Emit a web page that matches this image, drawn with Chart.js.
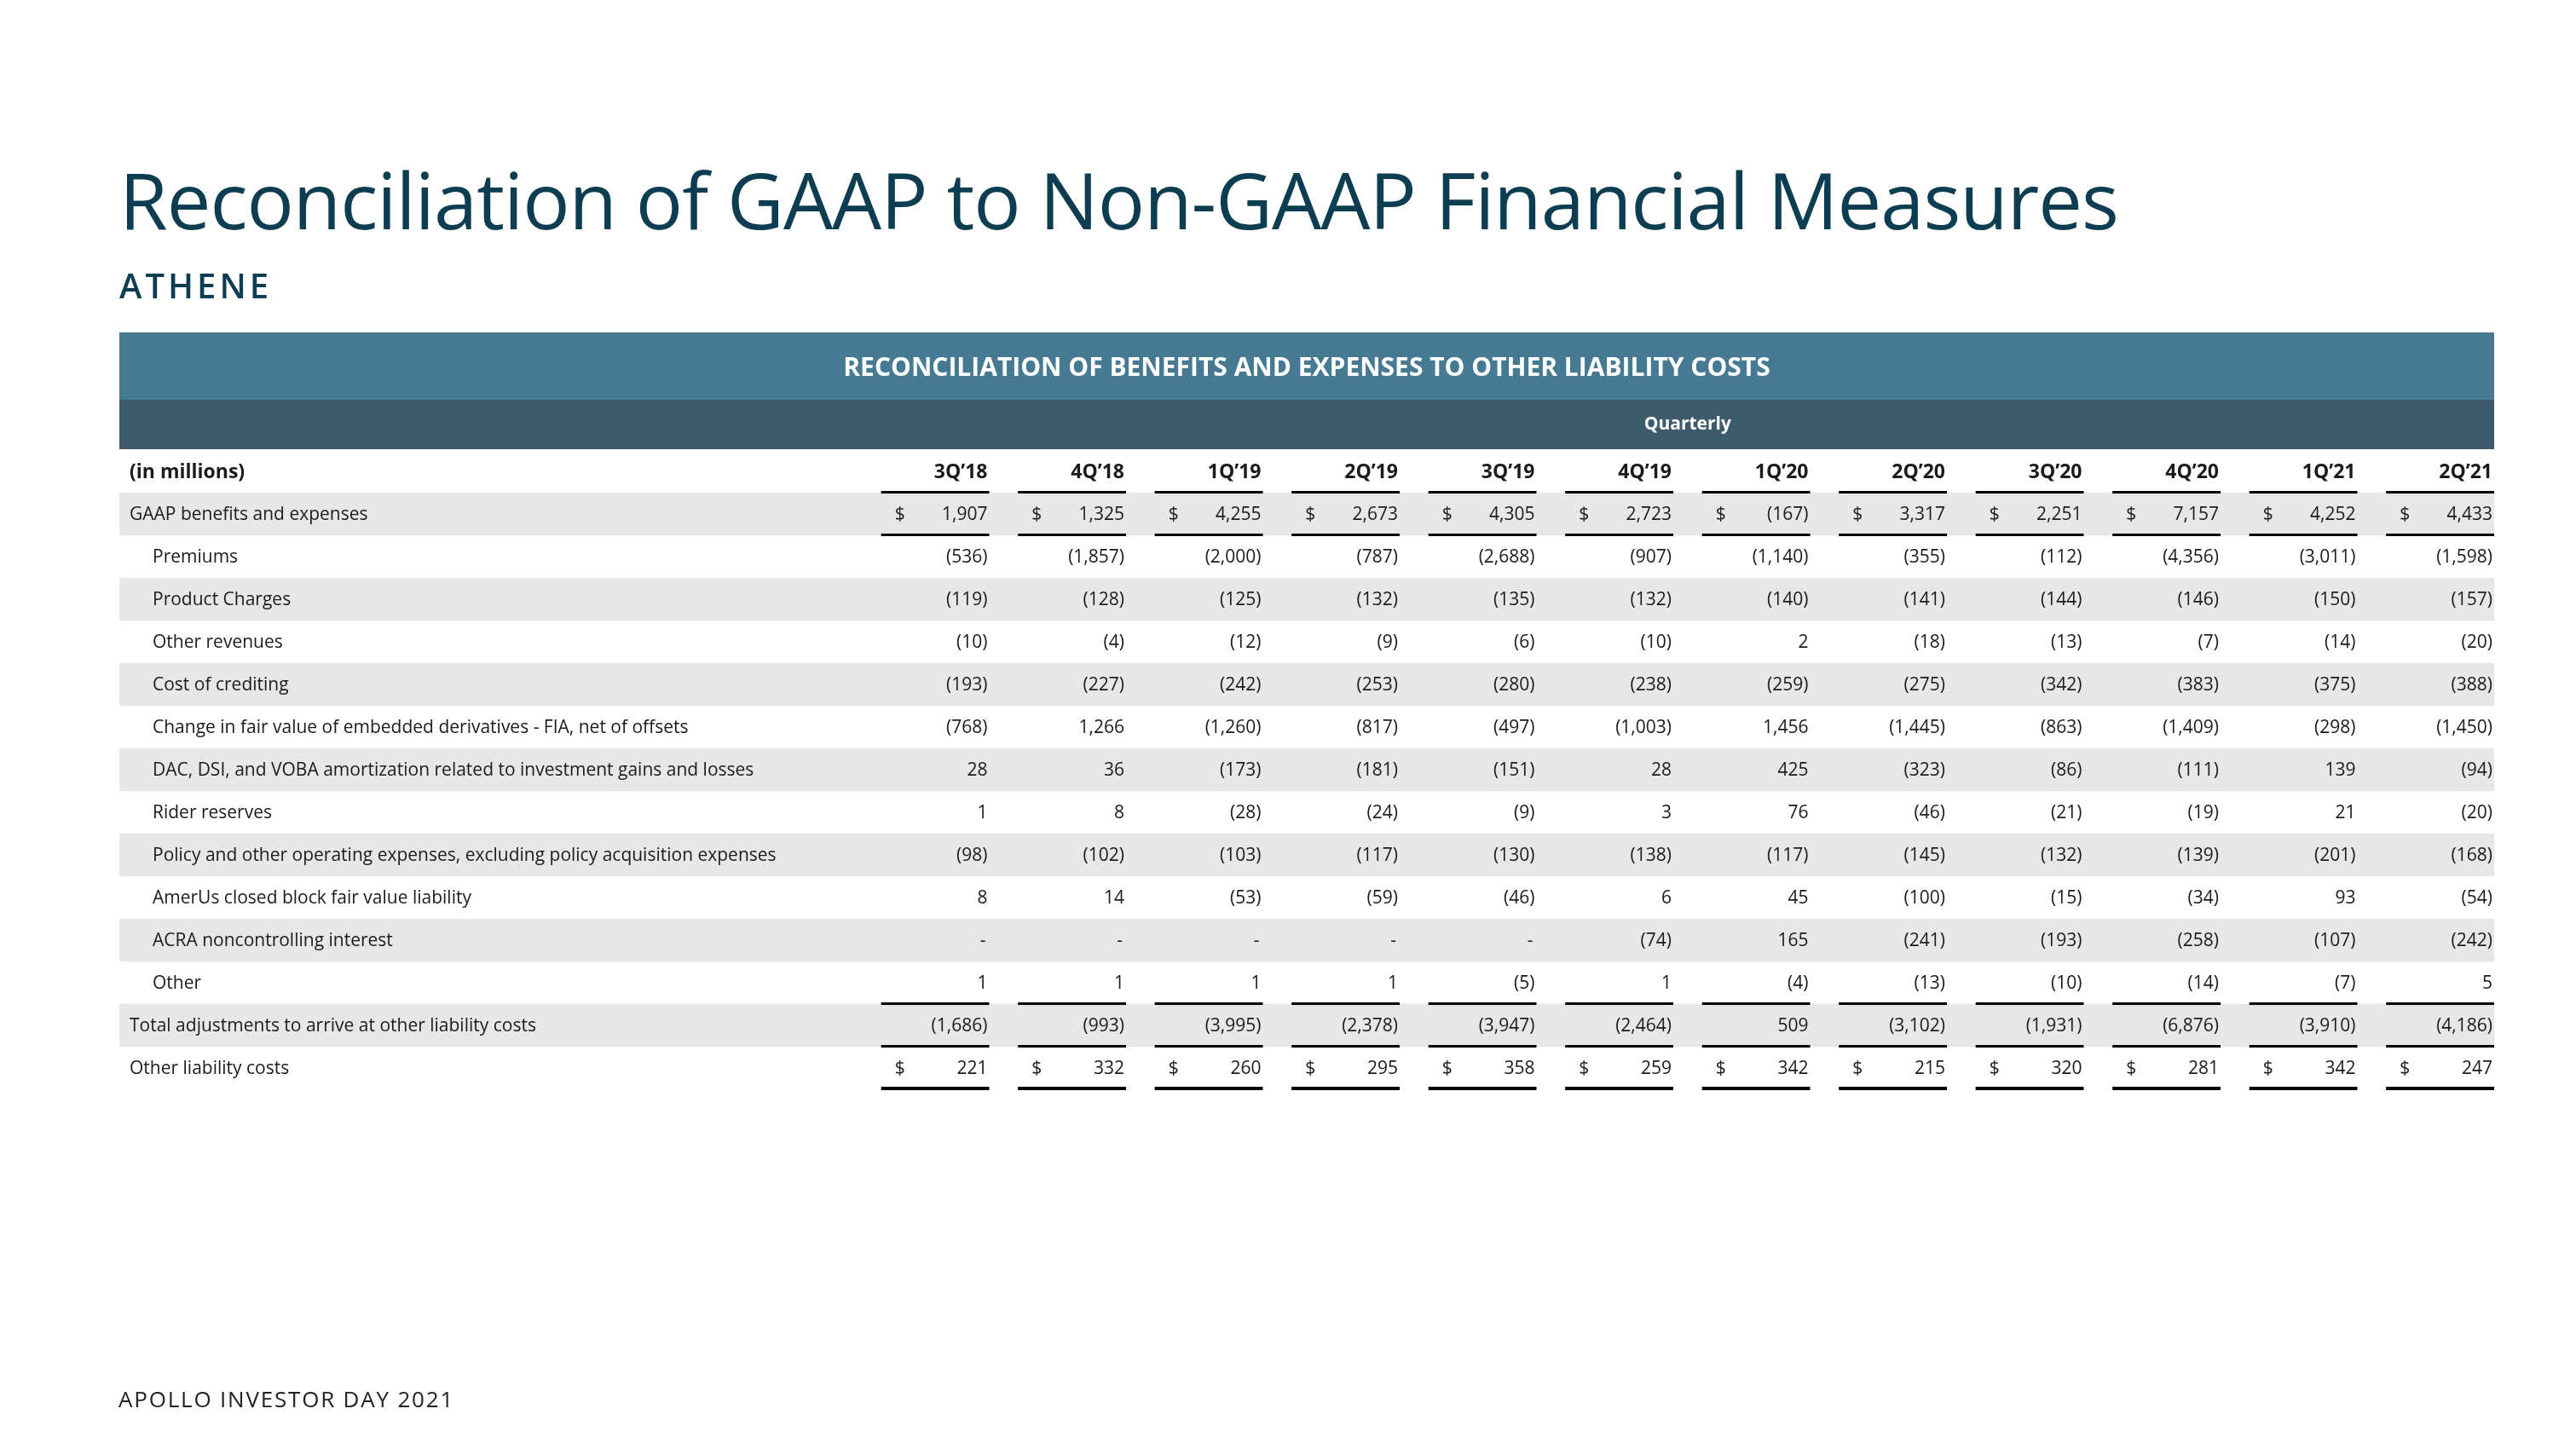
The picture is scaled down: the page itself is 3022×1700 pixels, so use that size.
<!DOCTYPE html>
<html>
<head>
<meta charset="utf-8">
<script src="https://cdn.jsdelivr.net/npm/chart.js@4.4.1/dist/chart.umd.min.js"></script>
<style>
  html, body { margin: 0; padding: 0; background: #fff; }
  #page { position: relative; width: 3022px; height: 1700px; overflow: hidden; font-family: "Open Sans", sans-serif; }
  #chart { position: absolute; left: 0; top: 0; }
  .title { position: absolute; left: 140px; top: 188px; font-size: 92px; line-height: 92px; color: #0c3d51; white-space: nowrap; letter-spacing: -1px; }
  .sub { position: absolute; left: 140px; top: 315px; font-size: 40px; line-height: 40px; font-weight: 600; color: #0c3d51; letter-spacing: 4px; }
  .foot { position: absolute; left: 139px; top: 1628px; font-size: 26px; line-height: 26px; color: #222; letter-spacing: 1.8px; }
</style>
</head>
<body>
<div id="page">
  <canvas id="chart" width="3022" height="1700"></canvas>
  <div class="title">Reconciliation of GAAP to Non-GAAP Financial Measures</div>
  <div class="sub">ATHENE</div>
  <div class="foot">APOLLO INVESTOR DAY 2021</div>
</div>
<script>
// Column headers
const quarters = ['3Q’18', '4Q’18', '1Q’19', '2Q’19', '3Q’19', '4Q’19', '1Q’20', '2Q’20', '3Q’20', '4Q’20', '1Q’21', '2Q’21'];

// Row labels (in millions)
const rowLabels = [
  'GAAP benefits and expenses',
  'Premiums',
  'Product Charges',
  'Other revenues',
  'Cost of crediting',
  'Change in fair value of embedded derivatives - FIA, net of offsets',
  'DAC, DSI, and VOBA amortization related to investment gains and losses',
  'Rider reserves',
  'Policy and other operating expenses, excluding policy acquisition expenses',
  'AmerUs closed block fair value liability',
  'ACRA noncontrolling interest',
  'Other',
  'Total adjustments to arrive at other liability costs',
  'Other liability costs'
];

// one array per row
const gaapBenefits   = [1907, 1325, 4255, 2673, 4305, 2723, -167, 3317, 2251, 7157, 4252, 4433];
const premiums       = [-536, -1857, -2000, -787, -2688, -907, -1140, -355, -112, -4356, -3011, -1598];
const productCharges = [-119, -128, -125, -132, -135, -132, -140, -141, -144, -146, -150, -157];
const otherRevenues  = [-10, -4, -12, -9, -6, -10, 2, -18, -13, -7, -14, -20];
const costCrediting  = [-193, -227, -242, -253, -280, -238, -259, -275, -342, -383, -375, -388];
const embeddedDeriv  = [-768, 1266, -1260, -817, -497, -1003, 1456, -1445, -863, -1409, -298, -1450];
const dacAmort       = [28, 36, -173, -181, -151, 28, 425, -323, -86, -111, 139, -94];
const riderReserves  = [1, 8, -28, -24, -9, 3, 76, -46, -21, -19, 21, -20];
const policyExpenses = [-98, -102, -103, -117, -130, -138, -117, -145, -132, -139, -201, -168];
const amerUs         = [8, 14, -53, -59, -46, 6, 45, -100, -15, -34, 93, -54];
const acraNci        = [null, null, null, null, null, -74, 165, -241, -193, -258, -107, -242];
const otherAdj       = [1, 1, 1, 1, -5, 1, -4, -13, -10, -14, -7, 5];
const totalAdj       = [-1686, -993, -3995, -2378, -3947, -2464, 509, -3102, -1931, -6876, -3910, -4186];
const otherLiability = [221, 332, 260, 295, 358, 259, 342, 215, 320, 281, 342, 247];

const rowValues = [gaapBenefits, premiums, productCharges, otherRevenues, costCrediting, embeddedDeriv,
  dacAmort, riderReserves, policyExpenses, amerUs, acraNci, otherAdj, totalAdj, otherLiability];

// layout bits
const indented = [false, true, true, true, true, true, true, true, true, true, true, true, false, false];
const dollarRows = [0, 13];
const ruleAfter = { 0: 3, 1: 3, 12: 3, 13: 3, 14: 4 }; // y-index -> line width
const LABEL_SPAN = 5.358; // label column width in quarter-column units

const yLabels = ['(in millions)', ...rowLabels];
const stripes = yLabels.map((l, i) => (i > 0 && (i - 1) % 2 === 0) ? [-LABEL_SPAN, quarters.length] : null);

function fmt(v) {
  if (v === null) return '-';
  const s = Math.abs(v).toLocaleString('en-US');
  return v < 0 ? '(' + s + ')' : s;
}

const tablePlugin = {
  id: 'tableText',
  beforeDatasetsDraw(chart) {
    const { ctx, chartArea } = chart;
    const xs = chart.scales.x;
    const top = chartArea.top;
    ctx.save();
    ctx.fillStyle = '#467a92';
    ctx.fillRect(chartArea.left, top - 138, chartArea.right - chartArea.left, 79);
    ctx.fillStyle = '#3e5a6d';
    ctx.fillRect(chartArea.left, top - 59, chartArea.right - chartArea.left, 58);
    ctx.fillStyle = '#fff';
    ctx.textAlign = 'center';
    ctx.textBaseline = 'middle';
    ctx.font = 'bold 30px "Open Sans"';
    ctx.fillText('RECONCILIATION OF BENEFITS AND EXPENSES TO OTHER LIABILITY COSTS', (chartArea.left + chartArea.right) / 2, top - 96);
    ctx.font = 'bold 21px "Open Sans"';
    const qMid = (xs.getPixelForValue(0.21) + xs.getPixelForValue(quarters.length)) / 2;
    ctx.fillText('Quarterly', qMid, top - 30);
    ctx.restore();
  },
  afterDatasetsDraw(chart) {
    const { ctx, chartArea } = chart;
    const xs = chart.scales.x, ys = chart.scales.y;
    const rowH = ys.getPixelForValue(1) - ys.getPixelForValue(0);
    const colW = xs.getPixelForValue(1) - xs.getPixelForValue(0);
    ctx.save();
    ctx.fillStyle = '#1b1b1b';
    ctx.textBaseline = 'middle';

    // header row
    const hy = ys.getPixelForValue(0) + 1;
    ctx.font = 'bold 23px "Open Sans"';
    ctx.textAlign = 'left';
    ctx.fillText(yLabels[0], chartArea.left + 12, hy);
    ctx.textAlign = 'right';
    quarters.forEach((q, k) => ctx.fillText(q, xs.getPixelForValue(k + 1) - 2, hy));

    // body
    ctx.font = '21px "Open Sans"';
    rowLabels.forEach((label, r) => {
      const y = ys.getPixelForValue(r + 1) + 1;
      ctx.textAlign = 'left';
      ctx.fillText(label, chartArea.left + (indented[r] ? 39 : 12), y);
      rowValues[r].forEach((v, k) => {
        const right = xs.getPixelForValue(k + 1);
        ctx.textAlign = 'right';
        ctx.fillText(fmt(v), right - (v === null ? 4 : 2), y);
        if (dollarRows.includes(r)) {
          ctx.textAlign = 'left';
          ctx.fillText('$', right - colW * 0.79 + 16, y);
        }
      });
    });

    // rules under cells
    ctx.fillStyle = '#000';
    Object.entries(ruleAfter).forEach(([idx, w]) => {
      const yb = ys.getPixelForValue(+idx) + rowH / 2;
      quarters.forEach((q, k) => {
        const right = xs.getPixelForValue(k + 1);
        ctx.fillRect(right - colW * 0.79, yb - w + 1, colW * 0.79, w);
      });
    });
    ctx.restore();
  }
};

new Chart(document.getElementById('chart').getContext('2d'), {
  type: 'bar',
  data: {
    labels: yLabels,
    datasets: [{
      data: stripes,
      backgroundColor: '#e7e7e7',
      borderWidth: 0,
      barPercentage: 1,
      categoryPercentage: 1
    }]
  },
  options: {
    indexAxis: 'y',
    responsive: false,
    animation: false,
    layout: { padding: { left: 140, right: 96, top: 528, bottom: 422 } },
    scales: {
      x: { type: 'linear', min: -LABEL_SPAN, max: quarters.length, display: false },
      y: { type: 'category', display: false }
    },
    plugins: { legend: { display: false }, tooltip: { enabled: false } }
  },
  plugins: [tablePlugin]
});
</script>
</body>
</html>
